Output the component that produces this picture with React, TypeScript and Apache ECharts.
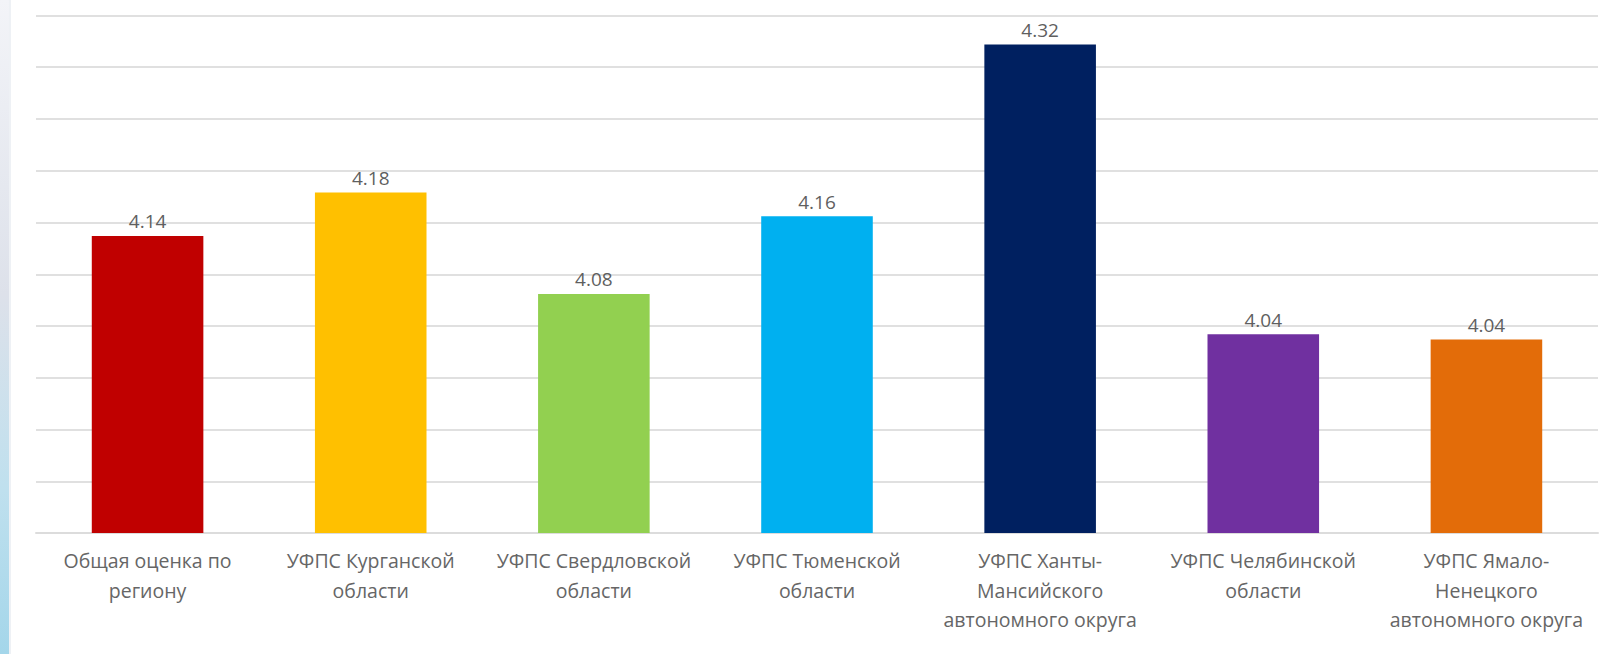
import React, { useEffect, useRef } from "react";
import * as echarts from "echarts";

const categories: string[] = [
  "Общая оценка по\nрегиону",
  "УФПС Курганской\nобласти",
  "УФПС Свердловской\nобласти",
  "УФПС Тюменской\nобласти",
  "УФПС Ханты-\nМансийского\nавтономного округа",
  "УФПС Челябинской\nобласти",
  "УФПС Ямало-\nНенецкого\nавтономного округа",
];

const values: number[] = [4.137, 4.179, 4.081, 4.156, 4.322, 4.042, 4.037];

const barColors: string[] = [
  "#C00000",
  "#FFC000",
  "#92D050",
  "#00B0F0",
  "#002060",
  "#7030A0",
  "#E36C09",
];

const axisMin = 3.85;
const axisMax = 4.35;
const axisStep = 0.05;

const FONT = "'Open Sans', 'Noto Sans', sans-serif";

export default function App() {
  const ref = useRef<HTMLDivElement>(null);

  useEffect(() => {
    if (!ref.current) return;
    const chart = echarts.init(ref.current, undefined, { renderer: "svg" });
    chart.setOption({
      animation: false,
      backgroundColor: "#ffffff",
      graphic: [
        {
          type: "rect",
          left: 0,
          top: 0,
          shape: { x: 0, y: 0, width: 9, height: 654 },
          style: {
            fill: new echarts.graphic.LinearGradient(0, 0, 0, 1, [
              { offset: 0, color: "#f3f4f8" },
              { offset: 0.45, color: "#dde1ea" },
              { offset: 0.75, color: "#bfe0ee" },
              { offset: 1, color: "#a4d6ea" },
            ]),
          },
          silent: true,
        },
        {
          type: "rect",
          left: 9,
          top: 0,
          shape: { x: 0, y: 0, width: 2, height: 654 },
          style: { fill: "#eef1f5" },
          silent: true,
        },
      ],
      grid: {
        left: 36,
        right: 14,
        top: 15.5,
        bottom: 121,
        containLabel: false,
      },
      xAxis: {
        type: "category",
        data: categories,
        axisLine: { show: true, lineStyle: { color: "#dcdcdc", width: 2 } },
        axisTick: { show: false },
        axisLabel: {
          interval: 0,
          margin: 13,
          lineHeight: 29.5,
          fontSize: 19.5,
          fontFamily: FONT,
          color: "#666666",
          align: "center",
        },
      },
      yAxis: {
        type: "value",
        min: axisMin,
        max: axisMax,
        interval: axisStep,
        axisLine: { show: false },
        axisTick: { show: false },
        axisLabel: { show: false },
        splitLine: { show: true, lineStyle: { color: "#e0e0e0", width: 2 } },
      },
      series: [
        {
          type: "bar",
          data: values.map((v, i) => ({ value: v, itemStyle: { color: barColors[i] } })),
          barWidth: "50%",
          label: {
            show: true,
            position: "top",
            distance: 5,
            fontSize: 19,
            fontFamily: FONT,
            color: "#5f5f5f",
            formatter: (p: any) => Number(p.value).toFixed(2),
          },
        },
      ],
    });
    return () => chart.dispose();
  }, []);

  return (
    <div
      ref={ref}
      style={{ position: "fixed", left: 0, top: 0, width: 1612, height: 654 }}
    />
  );
}
